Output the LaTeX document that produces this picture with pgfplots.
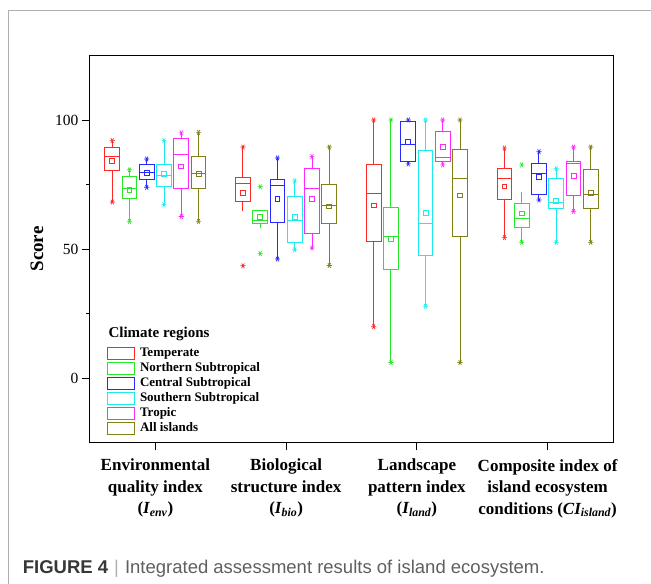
\documentclass[border=0pt]{standalone}
\usepackage{fontspec}
\setmainfont{Liberation Serif}
\newfontfamily\capfont{Liberation Sans}
\usepackage{pgfplots}
\pgfplotsset{compat=1.18}

\definecolor{cT}{RGB}{255,40,40}
\definecolor{cN}{RGB}{40,230,40}
\definecolor{cC}{RGB}{40,40,255}
\definecolor{cS}{RGB}{30,235,235}
\definecolor{cP}{RGB}{255,40,255}
\definecolor{cA}{RGB}{128,128,20}
\definecolor{framegray}{RGB}{175,175,175}
\definecolor{capdark}{RGB}{55,55,55}
\definecolor{capgray}{RGB}{95,95,95}

% one box: colour, position, lower whisker, Q1, median, Q3, upper whisker, min, max
\newcommand{\bx}[9]{%
  \pgfmathsetmacro\xa{#2-0.056}\pgfmathsetmacro\xb{#2+0.056}%
  \edef\tmp{%
    \noexpand\addplot[color=#1, draw=#1, mark=none, line width=1pt, forget plot] coordinates {(#2,#3) (#2,#4)};
    \noexpand\addplot[color=#1, draw=#1, mark=none, line width=1pt, forget plot] coordinates {(#2,#6) (#2,#7)};
    \noexpand\addplot[color=#1, draw=#1, mark=none, line width=1pt, line cap=rect, forget plot]
      coordinates {(\xa,#4) (\xb,#4) (\xb,#6) (\xa,#6) (\xa,#4)};
    \noexpand\addplot[color=#1, draw=#1, mark=none, line width=1pt, forget plot] coordinates {(\xa,#5) (\xb,#5)};
    \noexpand\addplot[color=#1, only marks, forget plot, mark=asterisk, mark size=2.7pt,
      mark options={rotate=90, line width=0.7pt}] coordinates {(#2,#8) (#2,#9)};
  }\tmp}

\begin{document}
\begin{tikzpicture}
\path[use as bounding box] (0pt,0pt) rectangle (651pt,584pt);
\draw[framegray, line width=1.2pt] (8.3pt,0pt) -- (8.3pt,573.6pt) -- (651pt,573.6pt);

\begin{axis}[
  scale only axis, width=523pt, height=387pt,
  at={(90pt,141.5pt)}, anchor=south west,
  xmin=0.5, xmax=4.5, ymin=-25, ymax=125,
  axis line style={line width=1pt},
  tick align=outside, tick pos=left,
  major tick length=8pt, minor tick length=4pt,
  every tick/.style={black, line width=0.8pt},
  xtick={1,2,3,4},
  xticklabels={{Environmental\\quality index\\({\itshape I\textsubscript{env}})},
               {Biological\\structure index\\({\itshape I\textsubscript{bio}})},
               {Landscape\\pattern index\\({\itshape I\textsubscript{land}})},
               {Composite index of\\island ecosystem\\conditions ({\itshape CI\textsubscript{island}})}},
  xticklabel style={align=center, yshift=-5pt, font=\fontsize{17}{21.5}\selectfont\bfseries},
  ytick={0,50,100}, minor ytick={25,75},
  yticklabel style={font=\fontsize{15.5}{18}\selectfont},
  /pgf/number format/assume math mode=true,
  ylabel={Score},
  every axis y label/.style={at={(axis description cs:-0.1013,0.5)}, rotate=90, anchor=center,
    font=\fontsize{19}{22}\selectfont\bfseries},
  legend cell align=left,
  legend style={at={(axis description cs:0.0331,0.246)}, anchor=north west,
    draw=none, fill=none, inner sep=0pt, outer sep=0pt, row sep=1.8pt, column sep=4.7pt,
    font=\fontsize{13}{15}\selectfont\bfseries,
    nodes={inner sep=0pt, text height=9pt, text depth=3.3pt}},
  legend image code/.code={\draw[line width=1pt] (0pt,-6.1pt) rectangle (27pt,6.1pt);},
]
\addlegendimage{cT}\addlegendentry{Temperate}
\addlegendimage{cN}\addlegendentry{Northern Subtropical}
\addlegendimage{cC}\addlegendentry{Central Subtropical}
\addlegendimage{cS}\addlegendentry{Southern Subtropical}
\addlegendimage{cP}\addlegendentry{Tropic}
\addlegendimage{cA}\addlegendentry{All islands}

% Environmental quality index
\bx{cT}{0.670}{68.2}{80.6}{86.0}{89.5}{92.0}{68.2}{92.0}
\bx{cN}{0.802}{60.7}{69.6}{73.4}{78.1}{80.7}{60.7}{80.7}
\bx{cC}{0.934}{73.9}{76.9}{79.6}{82.8}{84.9}{73.9}{84.9}
\bx{cS}{1.066}{67.2}{74.3}{78.3}{82.6}{92.0}{67.2}{92.0}
\bx{cP}{1.198}{62.6}{73.3}{86.7}{92.9}{95.0}{62.6}{95.0}
\bx{cA}{1.330}{60.7}{73.6}{79.2}{85.8}{95.2}{60.7}{95.2}
% Biological structure index
\bx{cT}{1.670}{64.6}{68.5}{75.2}{77.8}{89.5}{43.5}{89.5}
\bx{cN}{1.802}{58.1}{59.9}{61.1}{65.1}{65.1}{48.2}{74.1}
\bx{cC}{1.934}{46.1}{60.2}{74.5}{77.1}{85.3}{46.1}{85.3}
\bx{cS}{2.066}{49.7}{52.6}{61.0}{70.2}{76.4}{49.7}{76.4}
\bx{cP}{2.198}{50.4}{55.9}{73.5}{81.2}{85.8}{50.4}{85.8}
\bx{cA}{2.330}{43.6}{59.9}{66.8}{75.0}{89.5}{43.6}{89.5}
% Landscape pattern index
\bx{cT}{2.670}{19.9}{53.1}{71.6}{82.8}{100}{19.9}{100}
\bx{cN}{2.802}{6.0}{42.1}{55.0}{66.0}{100}{6.0}{100}
\bx{cC}{2.934}{83.0}{84.0}{90.5}{99.3}{100}{83.0}{100}
\bx{cS}{3.066}{27.8}{47.3}{59.7}{88.1}{100}{27.8}{100}
\bx{cP}{3.198}{82.6}{83.8}{85.3}{95.5}{100}{82.6}{100}
\bx{cA}{3.330}{6.0}{55.0}{77.4}{88.6}{100}{6.0}{100}
% Composite index
\bx{cT}{3.670}{54.4}{69.1}{77.4}{81.2}{89.1}{54.4}{89.1}
\bx{cN}{3.802}{52.6}{58.3}{61.7}{67.7}{72.2}{52.6}{82.6}
\bx{cC}{3.934}{69.0}{71.2}{79.2}{83.3}{87.7}{69.0}{87.7}
\bx{cS}{4.066}{52.6}{65.7}{68.2}{77.2}{81.1}{52.6}{81.1}
\bx{cP}{4.198}{64.6}{70.9}{83.2}{84.0}{89.5}{64.6}{89.5}
\bx{cA}{4.330}{52.6}{65.7}{71.0}{81.0}{89.5}{52.6}{89.5}

% means
\addplot[cT, only marks, mark=square, mark size=2.4pt, line width=0.8pt, forget plot]
  coordinates {(0.670,84.0) (1.670,71.6) (2.670,66.9) (3.670,74.3)};
\addplot[cN, only marks, mark=square, mark size=2.4pt, line width=0.8pt, forget plot]
  coordinates {(0.802,72.9) (1.802,62.5) (2.802,53.9) (3.802,63.8)};
\addplot[cC, only marks, mark=square, mark size=2.4pt, line width=0.8pt, forget plot]
  coordinates {(0.934,79.5) (1.934,69.4) (2.934,91.6) (3.934,78.1)};
\addplot[cS, only marks, mark=square, mark size=2.4pt, line width=0.8pt, forget plot]
  coordinates {(1.066,79.1) (2.066,62.4) (3.066,64.1) (4.066,68.5)};
\addplot[cP, only marks, mark=square, mark size=2.4pt, line width=0.8pt, forget plot]
  coordinates {(1.198,82.0) (2.198,69.4) (3.198,89.5) (4.198,78.4)};
\addplot[cA, only marks, mark=square, mark size=2.4pt, line width=0.8pt, forget plot]
  coordinates {(1.330,79.2) (2.330,66.5) (3.330,70.8) (4.330,71.8)};
\end{axis}

\node[anchor=base west, inner sep=0pt, font=\fontsize{15}{18}\selectfont\bfseries]
  at (108.3pt,246.7pt) {Climate regions};
\node[anchor=base west, inner sep=0pt] at (22.7pt,10.7pt)
  {\capfont\fontsize{18.5}{22}\selectfont\textcolor{capdark}{\bfseries FIGURE 4}%
   \hspace{6pt}\textcolor{framegray}{|}\hspace{6pt}\textcolor{capgray}{Integrated assessment results of island ecosystem.}};
\end{tikzpicture}
\end{document}
